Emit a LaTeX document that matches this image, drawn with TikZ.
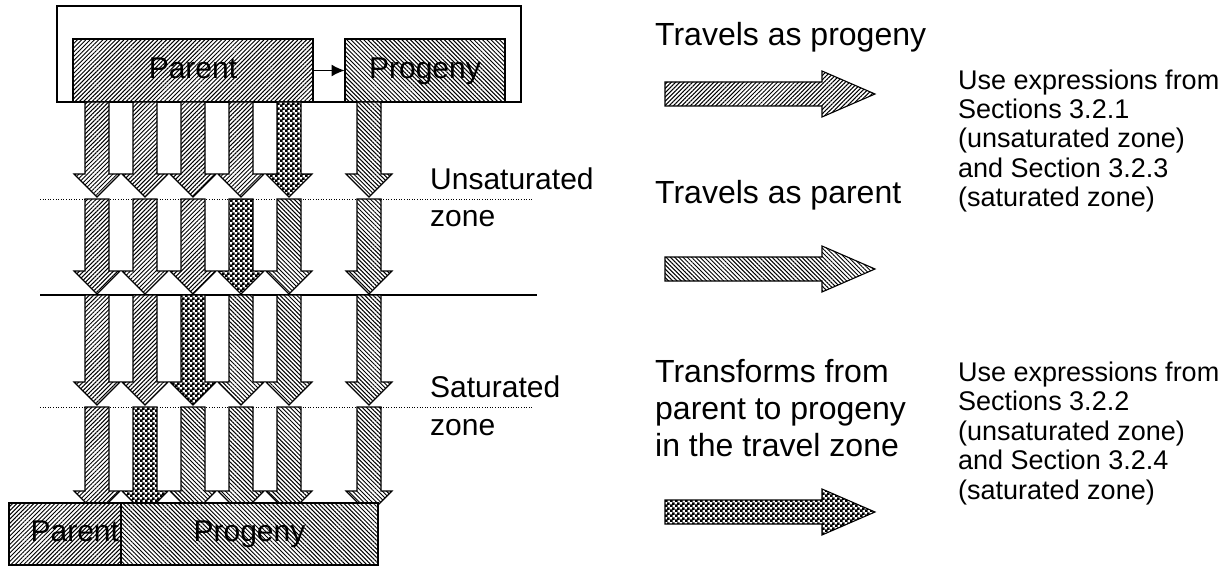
\documentclass[tikz,border=0pt]{standalone}
\usepackage{fontspec}
\setmainfont{Liberation Sans}
\usetikzlibrary{arrows.meta,patterns.meta,positioning,calc}

\pgfdeclarepatternformonly{finecheck}{\pgfqpoint{0pt}{0pt}}{\pgfqpoint{5pt}{5pt}}{\pgfqpoint{5pt}{5pt}}{%
  \pgfpathrectangle{\pgfpointorigin}{\pgfqpoint{3pt}{3pt}}%
  \pgfpathrectangle{\pgfqpoint{2.5pt}{2.5pt}}{\pgfqpoint{3pt}{3pt}}%
  \pgfusepath{fill}}

% block arrow pointing down: x, top, head start, tip, style
\newcommand{\colarrow}[5]{%
  \draw[#5] (#1-12,#2) -- (#1+12,#2) -- (#1+12,#3) -- (#1+23,#3) -- (#1,#4)
    -- (#1-23,#3) -- (#1-12,#3) -- cycle;}
% block arrow pointing right for the key: y, style
\newcommand{\keyarrow}[2]{%
  \draw[#2] (665,#1-12) -- (822,#1-12) -- (822,#1-23) -- (875,#1) -- (822,#1+23)
    -- (822,#1+12) -- (665,#1+12) -- cycle;}

\begin{document}
\begin{tikzpicture}[x=1pt,y=-1pt,
    parentfill/.style={draw, line width=1.1pt, preaction={fill=white},
      pattern={Lines[angle=45,distance=3pt,line width=1pt]}},
    progenyfill/.style={draw, line width=1.1pt, preaction={fill=white},
      pattern={Lines[angle=-45,distance=3pt,line width=1pt]}},
    changefill/.style={draw, line width=1.1pt, preaction={fill=white}, pattern=finecheck},
    box/.style={inner sep=0pt, text height=21.5pt, text depth=6pt, font=\fontsize{30}{36}\selectfont},
    zonetext/.style={font=\fontsize{30}{37.5}\selectfont, align=left, anchor=base west, inner sep=0pt},
    keytext/.style={font=\fontsize{32}{37}\selectfont, align=left, anchor=base west, inner sep=0pt},
    notetext/.style={font=\fontsize{27}{29.5}\selectfont, align=left, anchor=base west, inner sep=0pt}]
    \useasboundingbox (0,0) rectangle (1224,567);

    % zone boundaries
    \draw[line width=0.8pt, dash pattern=on 0.8pt off 1.8pt] (40,199) -- (533,199);
    \draw[line width=1.2pt] (40,295) -- (537,295);
    \draw[line width=0.8pt, dash pattern=on 0.8pt off 1.8pt] (40,407) -- (533,407);

    % source
    \node[draw, line width=1.3pt, minimum width=464, minimum height=96, inner sep=0pt] (S) at (289,54) {};
    \node[parentfill, box, minimum width=240, minimum height=63] (P1) at (193,70.5) {Parent};
    \node[progenyfill, box, minimum width=160, minimum height=63] (D1) at (425,70.5) {Progeny};
    \draw[line width=1.2pt, -{Latex[length=13pt,width=12pt]}] (P1) -- (D1);

    % travel zone
    \foreach \x/\s in {97/parentfill,145/parentfill,193/parentfill,241/parentfill,289/changefill,369/progenyfill}
      \colarrow{\x}{102}{174}{197}{\s};
    \foreach \x/\s in {97/parentfill,145/parentfill,193/parentfill,241/changefill,289/progenyfill,369/progenyfill}
      \colarrow{\x}{199}{271}{294}{\s};
    \foreach \x/\s in {97/parentfill,145/parentfill,193/changefill,241/progenyfill,289/progenyfill,369/progenyfill}
      \colarrow{\x}{295}{382}{405}{\s};
    \foreach \x/\s in {97/parentfill,145/changefill,193/progenyfill,241/progenyfill,289/progenyfill,369/progenyfill}
      \colarrow{\x}{407}{491}{514}{\s};

    % receptor
    \node[parentfill, box, minimum width=112, minimum height=62, text width=108, align=right] (P2) at (65,534) {Parent};
    \node[progenyfill, box, minimum width=257, minimum height=62] (D2) at (249.5,534) {Progeny};

    \node[zonetext] (U) at (430,226.5) {Unsaturated\\zone};
    \node[zonetext] (T) at (430,435) {Saturated\\zone};

    % key
    \node[keytext] (K1) at (655,46) {Travels as progeny};
    \keyarrow{94}{parentfill}
    \node[keytext] (K2) at (655,204) {Travels as parent};
    \keyarrow{269}{progenyfill}
    \node[keytext] (K3) at (655,456) {Transforms from\\parent to progeny\\in the travel zone};
    \keyarrow{512}{changefill}

    \node[notetext] (N1) at (958,207) {Use expressions from\\Sections 3.2.1\\(unsaturated zone)\\and Section 3.2.3\\(saturated zone)};
    \node[notetext] (N2) at (958,499) {Use expressions from\\Sections 3.2.2\\(unsaturated zone)\\and Section 3.2.4\\(saturated zone)};
\end{tikzpicture}
\end{document}
